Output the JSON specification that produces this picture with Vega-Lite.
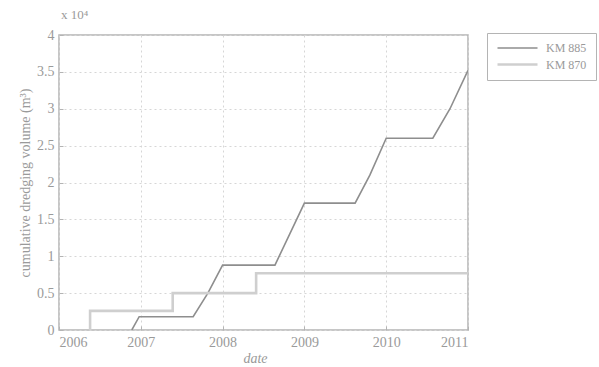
{
  "$schema": "https://vega.github.io/schema/vega-lite/v6.json",
  "width": 409,
  "height": 295,
  "autosize": {"type": "none"},
  "padding": {"left": 59, "top": 35, "right": 131, "bottom": 37},
  "background": "white",
  "title": {
    "text": "x 10⁴",
    "anchor": "start",
    "frame": "group",
    "font": "Liberation Serif",
    "fontSize": 13,
    "fontWeight": "normal",
    "color": "#9a9a9a",
    "offset": 6,
    "dx": 2
  },
  "config": {
    "view": {"stroke": "#b4b4b4", "strokeWidth": 1.5},
    "axis": {
      "labelFont": "Liberation Serif",
      "labelFontSize": 14,
      "labelColor": "#9a9a9a",
      "titleFont": "Liberation Serif",
      "titleFontSize": 14,
      "titleFontWeight": "normal",
      "titleColor": "#9a9a9a",
      "domain": false,
      "grid": true,
      "gridColor": "#d6d6d6",
      "gridDash": [2, 3],
      "gridWidth": 1,
      "tickColor": "#b4b4b4",
      "tickSize": -4,
      "labelPadding": 9
    }
  },
  "data": {
    "values": [
      {"series": "KM 885", "i": 0, "year": 2006.89, "volume": 0},
      {"series": "KM 885", "i": 1, "year": 2006.98, "volume": 0.18},
      {"series": "KM 885", "i": 2, "year": 2007.64, "volume": 0.18},
      {"series": "KM 885", "i": 3, "year": 2007.82, "volume": 0.5},
      {"series": "KM 885", "i": 4, "year": 2008.0, "volume": 0.88},
      {"series": "KM 885", "i": 5, "year": 2008.64, "volume": 0.88},
      {"series": "KM 885", "i": 6, "year": 2008.82, "volume": 1.3},
      {"series": "KM 885", "i": 7, "year": 2009.0, "volume": 1.72},
      {"series": "KM 885", "i": 8, "year": 2009.62, "volume": 1.72},
      {"series": "KM 885", "i": 9, "year": 2009.8, "volume": 2.1},
      {"series": "KM 885", "i": 10, "year": 2010.0, "volume": 2.6},
      {"series": "KM 885", "i": 11, "year": 2010.57, "volume": 2.6},
      {"series": "KM 885", "i": 12, "year": 2010.78, "volume": 3.0},
      {"series": "KM 885", "i": 13, "year": 2011.0, "volume": 3.52},
      {"series": "KM 870", "i": 0, "year": 2006.38, "volume": 0},
      {"series": "KM 870", "i": 1, "year": 2006.38, "volume": 0.26},
      {"series": "KM 870", "i": 2, "year": 2007.39, "volume": 0.26},
      {"series": "KM 870", "i": 3, "year": 2007.39, "volume": 0.5},
      {"series": "KM 870", "i": 4, "year": 2008.41, "volume": 0.5},
      {"series": "KM 870", "i": 5, "year": 2008.41, "volume": 0.77},
      {"series": "KM 870", "i": 6, "year": 2011.0, "volume": 0.77}
    ]
  },
  "mark": {"type": "line", "clip": true},
  "encoding": {
    "x": {
      "field": "year",
      "type": "quantitative",
      "scale": {"domain": [2006, 2011], "nice": false, "zero": false},
      "axis": {"values": [2006, 2007, 2008, 2009, 2010, 2011], "format": "d", "title": "date", "titleFontStyle": "italic", "titlePadding": 2, "titleX": 196}
    },
    "y": {
      "field": "volume",
      "type": "quantitative",
      "scale": {"domain": [0, 4], "nice": false},
      "axis": {"values": [0, 0.5, 1, 1.5, 2, 2.5, 3, 3.5, 4], "format": "~g", "title": "cumulative dredging volume (m³)", "titlePadding": 4}
    },
    "order": {"field": "i", "type": "quantitative"},
    "color": {
      "field": "series",
      "type": "nominal",
      "scale": {"domain": ["KM 885", "KM 870"], "range": ["#8e8e8e", "#cfcfcf"]},
      "legend": {
        "title": null,
        "orient": "none",
        "legendX": 428,
        "legendY": -2,
        "symbolType": "M-1,0H7",
        "symbolSize": 100,
        "symbolStrokeWidth": 2,
        "rowPadding": 4,
        "labelOffset": 37,
        "labelFont": "Liberation Serif",
        "labelFontSize": 12,
        "labelColor": "#9a9a9a",
        "strokeColor": "#b4b4b4",
        "padding": 9,
        "fillColor": "white"
      }
    },
    "strokeWidth": {
      "field": "series",
      "type": "nominal",
      "scale": {"domain": ["KM 885", "KM 870"], "range": [1.6, 2.6]},
      "legend": null
    }
  }
}
